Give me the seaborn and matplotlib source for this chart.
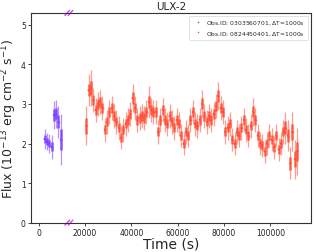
import numpy as np
import matplotlib
matplotlib.use("Agg")
import matplotlib.pyplot as plt
import pandas as pd
import seaborn as sns

sns.set_style("ticks")
plt.rcParams['font.family'] = ['DejaVu Sans']

# first observation (0303560701), 1000 s bins
t1 = [2500, 3500, 4500, 5500, 6500, 7500, 8500, 9500]
f1 = [2.12, 2.05, 2.0, 1.92, 2.72, 2.75, 2.55, 2.1]
e1 = [0.25, 0.22, 0.25, 0.3, 0.35, 0.35, 0.4, 0.65]

# second observation (0824450401), 1000 s bins
t2 = list(range(20500, 112500, 1000))
f2 = [2.45, 3.35, 3.4, 3.1, 2.85, 3.0, 3.05, 2.9, 2.35, 2.55,
      2.8, 2.9, 2.7, 2.55, 2.4, 2.15, 2.35, 2.5, 2.6, 2.75,
      3.15, 2.9, 2.6, 2.65, 2.7, 2.65, 2.8, 3.05, 2.85, 2.8,
      2.8, 2.3, 2.6, 2.85, 2.6, 2.5, 2.7, 2.55, 2.4, 2.6,
      2.5, 2.2, 2.0, 2.3, 2.2, 2.6, 2.8, 2.5, 2.45, 2.6,
      3.0, 2.7, 2.55, 2.7, 2.6, 2.75, 2.95, 3.2, 2.9, 2.8,
      2.3, 2.4, 2.5, 2.1, 2.0, 2.3, 2.2, 2.4, 2.6, 2.35,
      2.2, 2.45, 2.8, 2.6, 2.2, 2.0, 1.95, 1.8, 2.0, 2.2,
      2.1, 1.9, 2.2, 1.85, 2.0, 2.3, 2.4, 2.2, 1.5, 2.3,
      1.6, 1.8]
e2 = [0.5, 0.4, 0.45, 0.3, 0.3, 0.3, 0.3, 0.3, 0.3, 0.3,
      0.3, 0.3, 0.3, 0.3, 0.3, 0.3, 0.3, 0.3, 0.3, 0.3,
      0.35, 0.3, 0.3, 0.3, 0.3, 0.3, 0.3, 0.4, 0.3, 0.3,
      0.3, 0.3, 0.3, 0.3, 0.3, 0.3, 0.3, 0.3, 0.3, 0.3,
      0.3, 0.3, 0.3, 0.3, 0.3, 0.3, 0.3, 0.3, 0.3, 0.3,
      0.35, 0.3, 0.3, 0.3, 0.3, 0.3, 0.3, 0.35, 0.3, 0.3,
      0.3, 0.3, 0.3, 0.3, 0.3, 0.3, 0.3, 0.3, 0.3, 0.3,
      0.3, 0.3, 0.35, 0.3, 0.3, 0.3, 0.3, 0.3, 0.3, 0.3,
      0.3, 0.3, 0.3, 0.3, 0.3, 0.3, 0.4, 0.4, 0.4, 0.5,
      0.5, 0.6]

labels = ["Obs.ID: 0303560701, $\\Delta$T=1000s",
          "Obs.ID: 0824450401, $\\Delta$T=1000s"]
colors = ["#7b3dff", "#ff4c33"]

df = pd.concat([
    pd.DataFrame({"time": t1, "flux": f1, "err": e1, "obs": labels[0]}),
    pd.DataFrame({"time": t2, "flux": f2, "err": e2, "obs": labels[1]}),
])

fig = plt.figure(figsize=(3.16, 2.53), dpi=100)
ax = fig.add_axes([0.097, 0.116, 0.887, 0.829])

for lab, c in zip(labels, colors):
    d = df[df["obs"] == lab]
    ax.errorbar(d["time"], d["flux"], yerr=d["err"], xerr=500, fmt="none",
                ecolor=c, elinewidth=0.9, alpha=0.55, capsize=0)
    ax.errorbar(d["time"], d["flux"], yerr=d["err"] * 0.4, fmt="none",
                ecolor=c, elinewidth=1.8, alpha=0.85, capsize=0)

sns.scatterplot(data=df, x="time", y="flux", hue="obs", palette=colors,
                s=2, linewidth=0, ax=ax, legend=True)

ax.set_ylim(0, 5.3)
ax.set_xticks([0, 20000, 40000, 60000, 80000, 100000])
ax.set_yticks([0, 1, 2, 3, 4, 5])
ax.tick_params(labelsize=5.5, length=2, width=0.6, pad=1.5, labelcolor="#222222")
for s in ax.spines.values():
    s.set_linewidth(0.8)
    s.set_color("#333333")

# axis-break marks
tr = ax.get_xaxis_transform()
for yy in (0, 1):
    for dx in (-700, 700):
        ax.plot([13000 + dx - 1000, 13000 + dx + 1000], [yy - 0.012, yy + 0.012],
                color="#cc44ff", lw=1.0, transform=tr, clip_on=False)

ax.set_title("ULX-2", fontsize=7.5, pad=3)
ax.set_xlabel("Time (s)", fontsize=10, labelpad=0)
ax.set_ylabel("Flux (10$^{-13}$ erg cm$^{-2}$ s$^{-1}$)", fontsize=9)
ax.yaxis.set_label_coords(-0.042, 0.5)

leg = ax.legend(loc="upper right", fontsize=4.3, markerscale=0.8,
                handletextpad=0.3, borderpad=0.5, frameon=True)
leg.get_frame().set_linewidth(0.5)

fig.savefig("out.png", dpi=100)
